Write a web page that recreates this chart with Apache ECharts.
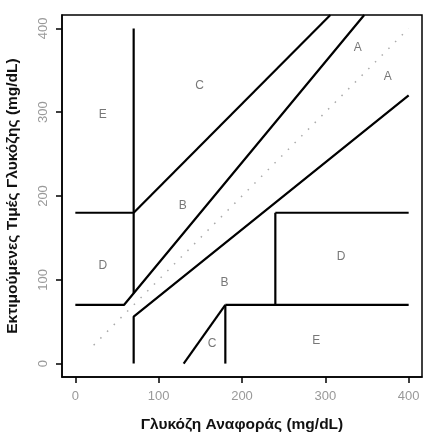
<!DOCTYPE html>
<html>
<head>
<meta charset="utf-8">
<script src="https://cdn.jsdelivr.net/npm/echarts@6/dist/echarts.min.js"></script>
<style>html,body{margin:0;padding:0;background:#fff;}#c{width:424px;height:432px;}</style>
</head>
<body>
<div id="c"></div>
<script>
// Axis ticks
const xTicks = [0, 100, 200, 300, 400];
const yTicks = [0, 100, 200, 300, 400];
// Zone boundary segments (data coordinates, mg/dL)
const upperA = [[0, 70], [58.33, 70], [346.67, 416]];
const lowerA = [[70, 0], [70, 56], [400, 320]];
const upperB = [[70, 84], [70, 400]];
const upperBhoriz = [[0, 180], [70, 180]];
const upperC = [[70, 180], [306, 416]];
const lowerCdiag = [[130, 0], [180, 70]];
const lowerCvert = [[180, 0], [180, 70]];
const lowerE = [[180, 70], [400, 70]];
const lowerDvert = [[240, 70], [240, 180]];
const lowerDhoriz = [[240, 180], [400, 180]];
const identity = [[22, 22], [400, 400]];
// Zone labels
const zoneLabels = [
  [339, 377, 'A'], [375, 342, 'A'],
  [149, 332, 'C'], [33, 297, 'E'],
  [129, 188, 'B'], [33, 117, 'D'],
  [319, 127, 'D'], [179, 97, 'B'],
  [164, 24, 'C'], [289, 27, 'E']
];
const xTitle = 'Γλυκόζη Αναφοράς (mg/dL)';
const yTitle = 'Εκτιμούμενες Τιμές Γλυκόζης (mg/dL)';

const solidSegs = [upperA, lowerA, upperB, upperBhoriz, upperC, lowerCdiag, lowerCvert, lowerE, lowerDvert, lowerDhoriz];

const chart = echarts.init(document.getElementById('c'), null, {renderer: 'canvas'});
const series = solidSegs.map(seg => ({
  type: 'line', data: seg, symbol: 'none', silent: true, clip: true,
  lineStyle: {color: '#000', width: 2.2}, animation: false
}));
series.push({
  type: 'line', data: identity, symbol: 'none', silent: true,
  lineStyle: {color: '#aaa', width: 1.5, type: [1.5, 8]}, animation: false
});
series.push({
  type: 'scatter', data: zoneLabels, symbolSize: 0, silent: true, animation: false,
  label: {show: true, position: 'inside', formatter: p => p.data[2],
    color: '#555', fontSize: 12, fontFamily: 'Liberation Sans'}
});

const axisCommon = {
  type: 'value', min: -16, max: 416,
  axisLine: {show: true, onZero: false, lineStyle: {color: '#000', width: 1.5}},
  splitLine: {show: false},
  axisTick: {show: true, length: 6, inside: false, lineStyle: {color: '#000', width: 1.5}},
  nameTextStyle: {fontFamily: 'Liberation Sans', fontWeight: 'bold', fontSize: 15.5, color: '#111'},
  nameLocation: 'middle'
};

chart.setOption({
  animation: false,
  grid: {left: 62, right: 2, top: 15, bottom: 55, show: true, containLabel: false, outerBoundsMode: 'none',
    borderColor: '#000', borderWidth: 1.5, backgroundColor: 'transparent'},
  xAxis: Object.assign({}, axisCommon, {
    name: xTitle, nameGap: 40,
    axisTick: Object.assign({}, axisCommon.axisTick, {customValues: xTicks}),
    axisLabel: {customValues: xTicks, color: '#999', fontSize: 13, fontFamily: 'Liberation Sans', margin: 13}
  }),
  yAxis: Object.assign({}, axisCommon, {
    name: yTitle, nameGap: 41,
    axisTick: Object.assign({}, axisCommon.axisTick, {customValues: yTicks}),
    axisLabel: {customValues: yTicks, rotate: 90, color: '#999', fontSize: 13, fontFamily: 'Liberation Sans', margin: 12}
  }),
  series: series
});
</script>
</body>
</html>
